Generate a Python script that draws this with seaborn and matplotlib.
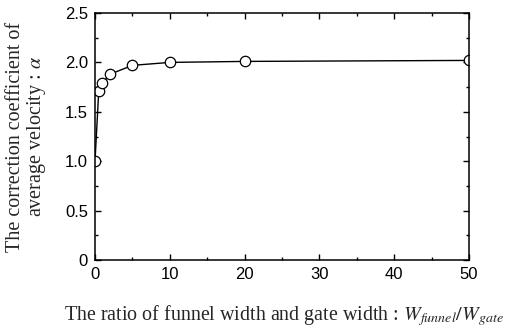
import matplotlib
matplotlib.use("Agg")
import matplotlib.pyplot as plt
import seaborn as sns
import pandas as pd
from matplotlib.ticker import MultipleLocator

# Width ratio W_funnel / W_gate and the correction coefficient alpha
ratio = [0, 0.5, 1, 2, 5, 10, 20, 50]
alpha = [1.00, 1.71, 1.79, 1.88, 1.97, 2.00, 2.01, 2.02]

df = pd.DataFrame({"ratio": ratio, "alpha": alpha})

sns.set_style("ticks")
plt.rcParams["mathtext.fontset"] = "stix"
fig = plt.figure(figsize=(5.11, 3.32), dpi=100)
ax = fig.add_axes([95 / 511, 1 - 260 / 332, (469 - 95) / 511, (260 - 13) / 332])

sns.lineplot(data=df, x="ratio", y="alpha", ax=ax, color="black", lw=1.0,
             marker="o", markersize=7.5, markerfacecolor="white",
             markeredgecolor="black", markeredgewidth=0.9)

ax.set_xlim(0, 50)
ax.set_ylim(0, 2.5)
ax.xaxis.set_major_locator(MultipleLocator(10))
ax.xaxis.set_minor_locator(MultipleLocator(5))
ax.yaxis.set_major_locator(MultipleLocator(0.5))
ax.yaxis.set_minor_locator(MultipleLocator(0.25))
ax.set_yticks([0, 0.5, 1.0, 1.5, 2.0, 2.5])
ax.set_yticklabels(["0", "0.5", "1.0", "1.5", "2.0", "2.5"])

ax.tick_params(which="both", direction="in", top=True, right=True,
               width=1.0, colors="black", labelsize=12, pad=5)
ax.tick_params(which="major", length=4)
ax.tick_params(which="minor", length=2.5)
for lab in ax.get_xticklabels() + ax.get_yticklabels():
    lab.set_family("Liberation Sans")
for s in ax.spines.values():
    s.set_linewidth(1.1)
    s.set_color("black")

ax.set_xlabel(r"The ratio of funnel width and gate width : $W_{funnel}/W_{gate}$",
              family="Liberation Serif", fontsize=14.4, labelpad=15)
ax.xaxis.label.set_x(0.505)
ax.set_ylabel("The correction coefficient of\naverage velocity : $\\alpha$",
              family="Liberation Serif", fontsize=14.5, labelpad=12, linespacing=1.0)

fig.savefig("out.png", dpi=100, facecolor="white")
